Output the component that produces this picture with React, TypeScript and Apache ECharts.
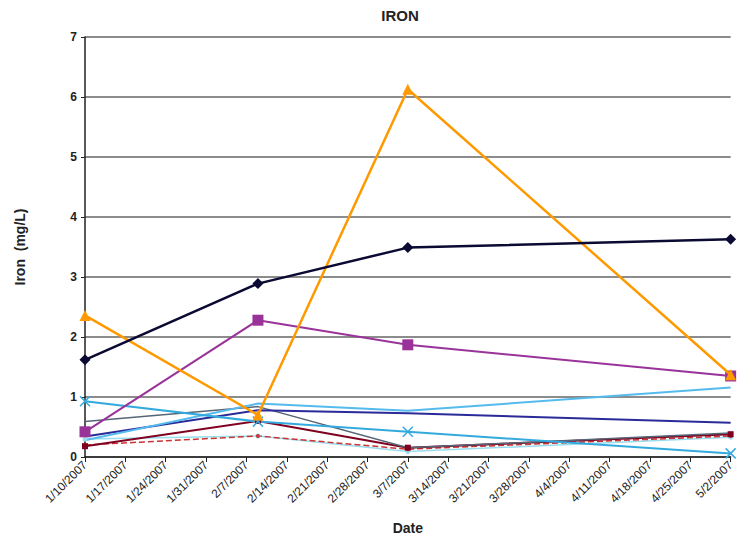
import React, { useEffect, useRef } from "react";
import * as echarts from "echarts";

const title = "IRON";
const yAxisName = "Iron  (mg/L)";
const xAxisName = "Date";
const tickLabels = [
  "1/10/2007", "1/17/2007", "1/24/2007", "1/31/2007", "2/7/2007", "2/14/2007",
  "2/21/2007", "2/28/2007", "3/7/2007", "3/14/2007", "3/21/2007", "3/28/2007",
  "4/4/2007", "4/11/2007", "4/18/2007", "4/25/2007", "5/2/2007",
];
const sampleDates = ["1/10/2007", "2/9/2007", "3/7/2007", "5/2/2007"];

const sDiamond = [1.62, 2.89, 3.49, 3.63];
const sSquare = [0.42, 2.28, 1.87, 1.35];
const sTriangle = [2.36, 0.7, 6.13, 1.37];
const sCross = [0.93, 0.59, 0.42, 0.06];
const sGray = [0.59, 0.84, 0.155, 0.4];
const sBlue = [0.34, 0.78, 0.73, 0.57];
const sLightBlue = [0.28, 0.89, 0.77, 1.16];
const sDarkRed = [0.18, 0.6, 0.155, 0.38];
const sRedDash = [0.2, 0.35, 0.13, 0.35];
const sPaleCyan = [0.3, 0.35, 0.09, 0.33];

const XPATH = "path://M0,0 L10,10 M10,0 L0,10";

function dayOffset(s: string): number {
  const [m, d, y] = s.split("/").map(Number);
  const base = Date.UTC(2007, 0, 10);
  return Math.round((Date.UTC(y, m - 1, d) - base) / 86400000);
}

function pts(vals: number[]) {
  return vals.map((v, i) => [dayOffset(sampleDates[i]), v]);
}

export default function App() {
  const ref = useRef<HTMLDivElement>(null);
  useEffect(() => {
    const chart = echarts.init(ref.current!, null, { renderer: "svg" });
    const mk = (
      name: string,
      vals: number[],
      color: string,
      symbol: string,
      size: number,
      width = 2,
      type: any = "solid",
      z = 2
    ) => ({
      name,
      type: "line",
      data: pts(vals),
      symbol,
      symbolSize: size,
      showSymbol: symbol !== "none",
      z,
      lineStyle: { color, width, type },
      itemStyle: {
        color: symbol === XPATH ? "none" : color,
        borderColor: color,
        borderWidth: symbol === XPATH ? 1.5 : 0,
      },
    });
    chart.setOption({
      animation: false,
      backgroundColor: "#ffffff",
      title: {
        text: title,
        left: 395,
        textAlign: "center",
        top: 3,
        textStyle: { fontFamily: "Liberation Sans", fontSize: 15, fontWeight: "bold", color: "#222" },
      },
      grid: { left: 85, right: 1, top: 37, bottom: 86, containLabel: false },
      xAxis: {
        type: "value",
        min: 0,
        max: 112,
        interval: 7,
        name: xAxisName,
        nameLocation: "middle",
        nameGap: 64,
        nameTextStyle: { fontFamily: "Liberation Sans", fontSize: 14, fontWeight: "bold", color: "#222" },
        axisLine: { show: true, lineStyle: { color: "#222", width: 1.5 } },
        axisTick: { show: true, length: 5, lineStyle: { color: "#222" } },
        splitLine: { show: false },
        axisLabel: {
          rotate: 45,
          fontFamily: "Liberation Sans",
          fontSize: 12,
          color: "#222",
          margin: 6,
          formatter: (v: number) => tickLabels[Math.round(v / 7)] ?? "",
        },
      },
      yAxis: {
        type: "value",
        min: 0,
        max: 7,
        interval: 1,
        name: yAxisName,
        nameLocation: "middle",
        nameGap: 58,
        nameRotate: 90,
        nameTextStyle: { fontFamily: "Liberation Sans", fontSize: 14, fontWeight: "bold", color: "#222" },
        axisLine: { show: true, lineStyle: { color: "#222", width: 1.5 } },
        axisTick: { show: true, length: 4, lineStyle: { color: "#222" } },
        axisLabel: { fontFamily: "Liberation Sans", fontSize: 12, fontWeight: "bold", color: "#222", margin: 8 },
        splitLine: { show: true, lineStyle: { color: "#666", width: 1.5 } },
      },
      series: [
        mk("S8", sPaleCyan, "#99ddee", "circle", 5, 1.5),
        mk("S9", sRedDash, "#cc3333", "circle", 4, 1.5, "dashed"),
        mk("S7", sDarkRed, "#800020", "rect", 6, 2),
        mk("S5", sGray, "#556677", "none", 0, 1.5),
        mk("S6", sBlue, "#2a2a99", "none", 0, 2),
        mk("S10", sLightBlue, "#55bbee", "none", 0, 2),
        mk("S4", sCross, "#33aadd", XPATH, 10, 2),
        mk("S2", sSquare, "#993399", "rect", 11, 2, "solid", 3),
        mk("S3", sTriangle, "#ff9900", "triangle", 11, 2.5, "solid", 4),
        mk("S1", sDiamond, "#0a0a33", "diamond", 11, 2.5, "solid", 5),
      ],
    });
    return () => chart.dispose();
  }, []);
  return <div ref={ref} style={{ width: 737, height: 543, position: "absolute", left: 0, top: 0 }} />;
}
